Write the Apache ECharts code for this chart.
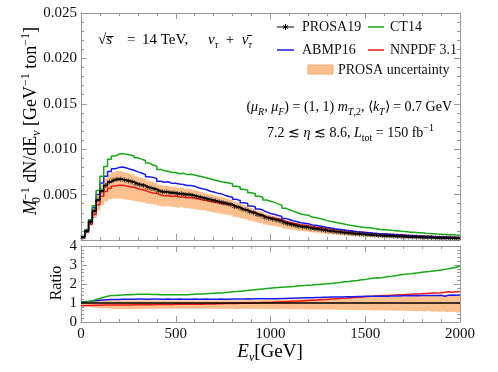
<!DOCTYPE html>
<html><head><meta charset="utf-8">
<script src="https://cdn.jsdelivr.net/npm/echarts@6/dist/echarts.min.js"></script>
<style>html,body{margin:0;padding:0;background:#fff}#c{width:498px;height:372px}</style>
</head><body><div id="c"></div>
<script>
// ---- data (20 GeV bins from 0 to 2000 GeV) ----
const binWidth = 20;
const prosa19 = [
 0.0003,0.0010,0.0020,0.0032,0.0044,0.0054,0.0060,0.0064,0.0066,0.0067,
 0.0067,0.0066,0.0065,0.0064,0.0062,0.0061,0.0060,0.0058,0.0057,0.0056,
 0.0054,0.0053,0.0053,0.0052,0.0052,0.0051,0.0051,0.0050,0.0050,0.0049,
 0.0048,0.0047,0.0046,0.0045,0.0044,0.0043,0.0042,0.0041,0.0040,0.0039,
 0.0037,0.0036,0.0034,0.0033,0.0031,0.0030,0.0028,0.0027,0.0025,0.0024,
 0.0023,0.0022,0.0021,0.0019,0.0018,0.0017,0.0016,0.0015,0.00145,0.0014,
 0.0013,0.00125,0.0012,0.00113,0.00106,0.0010,0.00095,0.0009,0.00085,0.0008,
 0.00076,0.00072,0.00068,0.00065,0.00062,0.00059,0.00056,0.00053,0.0005,0.00048,
 0.00046,0.00044,0.00042,0.0004,0.00038,0.00036,0.00034,0.00033,0.00031,0.0003,
 0.00028,0.00027,0.00026,0.00024,0.00023,0.00022,0.00021,0.0002,0.00019,0.00018];
// ratios to PROSA19
const ct14Ratio = [
 1.04,1.08,1.12,1.18,1.24,1.30,1.35,1.39,1.40,1.41,
 1.42,1.43,1.44,1.45,1.46,1.46,1.46,1.46,1.45,1.45,
 1.44,1.44,1.43,1.43,1.43,1.43,1.44,1.44,1.45,1.46,
 1.47,1.48,1.49,1.50,1.51,1.52,1.53,1.55,1.57,1.59,
 1.60,1.62,1.64,1.66,1.68,1.70,1.72,1.74,1.76,1.78,
 1.80,1.81,1.83,1.84,1.86,1.87,1.89,1.91,1.92,1.94,
 1.95,1.97,1.98,2.00,2.01,2.03,2.05,2.07,2.10,2.12,
 2.14,2.17,2.19,2.22,2.24,2.27,2.30,2.33,2.31,2.36,
 2.39,2.41,2.44,2.47,2.50,2.52,2.54,2.57,2.59,2.62,
 2.64,2.66,2.69,2.71,2.74,2.77,2.80,2.84,2.88,2.95];
const abmp16Ratio = [
 1.06,1.08,1.10,1.12,1.14,1.16,1.17,1.18,1.19,1.19,
 1.20,1.20,1.20,1.20,1.21,1.21,1.20,1.20,1.21,1.21,
 1.20,1.20,1.21,1.20,1.20,1.21,1.20,1.20,1.20,1.21,
 1.20,1.20,1.21,1.20,1.20,1.20,1.21,1.20,1.20,1.21,
 1.21,1.21,1.21,1.22,1.21,1.22,1.22,1.22,1.23,1.22,
 1.23,1.23,1.24,1.24,1.25,1.25,1.26,1.26,1.27,1.28,
 1.28,1.29,1.29,1.30,1.30,1.31,1.31,1.32,1.32,1.33,
 1.33,1.33,1.34,1.34,1.35,1.35,1.35,1.36,1.35,1.36,
 1.36,1.37,1.37,1.37,1.38,1.38,1.38,1.39,1.38,1.39,
 1.39,1.40,1.40,1.40,1.41,1.36,1.41,1.42,1.41,1.42];
const nnpdfRatio = [
 0.86,0.87,0.87,0.88,0.88,0.89,0.89,0.89,0.90,0.90,
 0.90,0.90,0.90,0.91,0.91,0.91,0.91,0.91,0.91,0.92,
 0.92,0.92,0.92,0.92,0.93,0.93,0.93,0.93,0.93,0.94,
 0.94,0.94,0.95,0.95,0.95,0.96,0.96,0.97,0.97,0.98,
 0.98,0.99,0.99,1.00,1.00,1.01,1.01,1.02,1.03,1.03,
 1.04,1.05,1.06,1.07,1.08,1.09,1.10,1.11,1.12,1.13,
 1.14,1.15,1.17,1.18,1.19,1.21,1.22,1.24,1.25,1.26,
 1.28,1.29,1.30,1.32,1.33,1.34,1.35,1.37,1.38,1.39,
 1.40,1.41,1.42,1.43,1.44,1.45,1.46,1.47,1.48,1.49,
 1.50,1.51,1.52,1.53,1.54,1.56,1.59,1.57,1.59,1.60];
const bandLowRatio = [
 0.86,0.82,0.79,0.76,0.74,0.72,0.71,0.70,0.69,0.68,
 0.68,0.68,0.68,0.68,0.69,0.69,0.69,0.69,0.70,0.70,
 0.70,0.70,0.70,0.71,0.70,0.70,0.71,0.70,0.70,0.70,
 0.70,0.70,0.71,0.70,0.70,0.70,0.70,0.69,0.70,0.70,
 0.69,0.69,0.70,0.69,0.69,0.69,0.68,0.69,0.68,0.68,
 0.68,0.68,0.68,0.67,0.68,0.67,0.67,0.67,0.66,0.67,
 0.66,0.66,0.66,0.65,0.66,0.65,0.65,0.64,0.65,0.64,
 0.64,0.63,0.64,0.63,0.62,0.63,0.62,0.61,0.62,0.61,
 0.60,0.61,0.60,0.59,0.60,0.58,0.59,0.58,0.57,0.58,
 0.56,0.57,0.55,0.56,0.54,0.55,0.53,0.54,0.52,0.50];
const bandHighRatio = [
 1.11,1.12,1.12,1.12,1.12,1.13,1.13,1.13,1.13,1.13,
 1.13,1.13,1.13,1.13,1.13,1.13,1.13,1.13,1.13,1.13,
 1.13,1.13,1.13,1.13,1.13,1.13,1.13,1.13,1.13,1.13,
 1.13,1.13,1.13,1.13,1.13,1.13,1.14,1.14,1.14,1.14,
 1.14,1.14,1.14,1.15,1.15,1.15,1.15,1.16,1.16,1.16,
 1.17,1.17,1.17,1.18,1.18,1.19,1.19,1.20,1.20,1.21,
 1.21,1.22,1.22,1.23,1.23,1.24,1.24,1.25,1.25,1.26,
 1.26,1.27,1.27,1.28,1.28,1.29,1.29,1.30,1.30,1.31,
 1.31,1.32,1.32,1.33,1.33,1.34,1.34,1.35,1.35,1.36,
 1.36,1.37,1.37,1.38,1.38,1.39,1.40,1.40,1.41,1.42];
const xTickValues = [0, 500, 1000, 1500, 2000];
const yTopRange = [0, 0.025];
const yRatioRange = [0, 4];

// ---- build ----
const C = {green:'#17a817', blue:'#1a1aee', red:'#ee1a1a', black:'#000', band:'#fdc08e'};
const FONT = 'Liberation Serif';
const times = (a, r) => a.map((v, i) => v * r[i]);
const ct14Top = times(prosa19, ct14Ratio);
const abmpTop = times(prosa19, abmp16Ratio);
const nnpdfTop = times(prosa19, nnpdfRatio);
const bandLowTop = times(prosa19, bandLowRatio);
const bandHighTop = times(prosa19, bandHighRatio);
const ones = prosa19.map(() => 1);

function stepData(vals) {
  const d = vals.map((v, i) => [i * binWidth, v]);
  d.push([vals.length * binWidth, vals[vals.length - 1]]);
  return d;
}
function histLine(name, vals, color, grid, z) {
  return {name, type:'line', step:'end', xAxisIndex: grid*2, yAxisIndex: grid*2,
    data: stepData(vals), symbol:'none', lineStyle:{color, width:1.5}, z: z,
    silent:true, animation:false};
}
function band(lo, hi, grid) {
  return {type:'custom', xAxisIndex: grid*2, yAxisIndex: grid*2, clip:true, silent:true, z:1,
    animation:false,
    data: lo.map((l, i) => [i*binWidth, (i+1)*binWidth, l, hi[i]]),
    encode:{x:[0,1], y:[2,3]},
    renderItem: (params, api) => {
      const p0 = api.coord([api.value(0), api.value(3)]);
      const p1 = api.coord([api.value(1), api.value(2)]);
      return {type:'rect', shape:{x:p0[0], y:p0[1], width:p1[0]-p0[0]+0.6, height:p1[1]-p0[1]},
        style:{fill:C.band}};
    }};
}
const axisCol = '#9a9a9a';
function xAx(grid, pos, labels) {
  return {gridIndex:grid, type:'value', position:pos, min:xTickValues[0], max:xTickValues[xTickValues.length-1],
    interval:xTickValues[1]-xTickValues[0],
    axisLine:{show:true, onZero:false, lineStyle:{color:axisCol, width:1}},
    axisTick:{show:true, inside:true, length:6, lineStyle:{color:axisCol}},
    minorTick:{show:true, splitNumber:5, length:3, lineStyle:{color:axisCol}},
    axisLabel:{show:labels, color:'#111', fontFamily:FONT, fontSize:15, margin:5, formatter: v => String(v)},
    splitLine:{show:false}};
}
function yAx(grid, pos, range, interval, labels, fmt) {
  return {gridIndex:grid, type:'value', position:pos, min:range[0], max:range[1], interval,
    axisLine:{show:true, onZero:false, lineStyle:{color:axisCol, width:1}},
    axisTick:{show:true, inside:true, length:6, lineStyle:{color:axisCol}},
    minorTick:{show:true, splitNumber:5, length:3, lineStyle:{color:axisCol}},
    axisLabel:{show:labels, color:'#111', fontFamily:FONT, fontSize:15, margin:4, formatter:fmt, showMinLabel:true},
    splitLine:{show:false}};
}
const asterisk = 'path://M5,0 L5,10 M0.67,2.5 L9.33,7.5 M0.67,7.5 L9.33,2.5';

const chart = echarts.init(document.getElementById('c'), null, {renderer:'canvas'});
const rich = {
  r:{fontFamily:FONT, fontSize:14, color:'#111', lineHeight:20, verticalAlign:'middle'},
  i:{fontFamily:FONT, fontStyle:'italic', fontSize:14, color:'#111', lineHeight:20},
  sub:{fontFamily:FONT, fontSize:10, color:'#111', lineHeight:10, verticalAlign:'bottom'},
  subi:{fontFamily:FONT, fontStyle:'italic', fontSize:10, color:'#111', lineHeight:10, verticalAlign:'bottom'},
  sup:{fontFamily:FONT, fontSize:10, color:'#111', lineHeight:10, verticalAlign:'top'}
};
const rich15 = {
  r:{fontFamily:FONT, fontSize:15, color:'#111', lineHeight:20},
  i:{fontFamily:FONT, fontStyle:'italic', fontSize:15, color:'#111', lineHeight:20},
  subi:{fontFamily:FONT, fontStyle:'italic', fontSize:10, color:'#111', lineHeight:10, verticalAlign:'bottom'}
};
const rich18 = {
  r:{fontFamily:FONT, fontSize:18, color:'#111', lineHeight:23},
  i:{fontFamily:FONT, fontStyle:'italic', fontSize:18, color:'#111', lineHeight:23},
  sub0:{fontFamily:FONT, fontSize:12, color:'#111', lineHeight:12, verticalAlign:'bottom', width:0.1},
  sub:{fontFamily:FONT, fontStyle:'italic', fontSize:12, color:'#111', lineHeight:12, verticalAlign:'bottom'},
  sup:{fontFamily:FONT, fontSize:12, color:'#111', lineHeight:12, verticalAlign:'top'}
};
function legLine(x1, x2, y, color, w) {
  return {type:'line', shape:{x1, y1:y, x2, y2:y}, style:{stroke:color, lineWidth:w || 1.5}, z:100};
}
function segLine(x1, y1, x2, y2) {
  return {type:'line', shape:{x1, y1, x2, y2}, style:{stroke:'#000', lineWidth:1}, z:101};
}
function legText(x, y, text) {
  return {type:'text', x, y, style:{text, fontFamily:FONT, fontSize:14, fill:'#111', verticalAlign:'middle', align:'left'}, z:100};
}
function rt(x, y, text, r, align) {
  return {type:'text', x, y, z:100, style:{text, rich:r, align:align || 'left', verticalAlign:'middle'}};
}
const option = {
  backgroundColor:'#fff',
  animation:false,
  grid:[
    {left:81, right:38, top:13, height:227},
    {left:81, right:38, top:246, height:76}
  ],
  xAxis:[xAx(0,'bottom',false), xAx(0,'top',false), xAx(1,'bottom',true), xAx(1,'top',false)],
  yAxis:[
    yAx(0,'left',yTopRange,0.005,true, v => v === 0 ? '' : v.toFixed(3)),
    yAx(0,'right',yTopRange,0.005,false),
    yAx(1,'left',yRatioRange,1,true, v => String(v)),
    yAx(1,'right',yRatioRange,1,false)
  ],
  series:[
    band(bandLowTop, bandHighTop, 0),
    histLine('NNPDF 3.1', nnpdfTop, C.red, 0, 3),
    histLine('ABMP16', abmpTop, C.blue, 0, 3),
    histLine('CT14', ct14Top, C.green, 0, 3),
    histLine('PROSA19', prosa19, C.black, 0, 4),
    {name:'PROSA19 points', type:'scatter', xAxisIndex:0, yAxisIndex:0, z:5, silent:true,
     data: prosa19.map((v, i) => [i*binWidth + binWidth/2, v]),
     symbol: asterisk, symbolSize:5,
     itemStyle:{color:'none', borderColor:'#000', borderWidth:0.9}},
    band(bandLowRatio, bandHighRatio, 1),
    histLine('NNPDF 3.1 ratio', nnpdfRatio, C.red, 1, 3),
    histLine('ABMP16 ratio', abmp16Ratio, C.blue, 1, 3),
    histLine('CT14 ratio', ct14Ratio, C.green, 1, 3),
    histLine('PROSA19 ratio', ones, C.black, 1, 4)
  ],
  graphic:[
    {type:'text', x:31, y:121, rotation:Math.PI/2, z:100,
     style:{text:'{i|M}{sub0|0}{sup|−1}{r| dN/dE}{sub|ν}{r| [GeV}{sup|−1}{r| ton}{sup|−1}{r|]}',
       rich:rich18, align:'center', verticalAlign:'middle'}},
    {type:'text', x:57, y:283, rotation:Math.PI/2, z:100,
     style:{text:'Ratio', fontFamily:FONT, fontSize:16, fill:'#111', align:'center', verticalAlign:'middle'}},
    {type:'text', x:270, y:352, z:100,
     style:{text:'{i|E}{sub|ν}{r|[GeV]}', rich:{
       r:{fontFamily:FONT, fontSize:19, color:'#111', lineHeight:24},
       i:{fontFamily:FONT, fontStyle:'italic', fontSize:19, color:'#111', lineHeight:24},
       sub:{fontFamily:FONT, fontStyle:'italic', fontSize:12, color:'#111', lineHeight:12, verticalAlign:'bottom'}},
       align:'center', verticalAlign:'middle'}},
    rt(98, 40, '{r|√}{i|s̅}', rich15),
    rt(127, 40, '{r|=}', rich15),
    rt(142, 40, '{r|14 TeV,}', rich15),
    rt(208, 40, '{i|ν}{subi|τ}{r|  +  }{i|ν̄}{subi|τ}', rich15),
    rt(452, 107, '{r|(}{i|μ}{subi|R}{r|, }{i|μ}{subi|F}{r|) = (1, 1) }{i|m}{subi|T}{sub|,2}{r|, ⟨}{i|k}{subi|T}{r|⟩ = 0.7 GeV}', rich, 'right'),
    rt(434, 133, '{r|7.2 ≲ }{i|η}{r| ≲ 8.6, }{i|L}{sub|tot}{r| = 150 fb}{sup|−1}', rich, 'right'),
    legLine(277, 294, 27, C.black, 1),
    segLine(285.5, 24, 285.5, 30),
    segLine(283, 25.5, 288, 28.5),
    segLine(283, 28.5, 288, 25.5),
    legText(302, 27, 'PROSA19'),
    legLine(368, 384, 27, C.green),
    legText(390, 27, 'CT14'),
    legLine(277, 294, 50, C.blue),
    legText(302, 50, 'ABMP16'),
    legLine(368, 384, 50, C.red),
    legText(390, 50, 'NNPDF 3.1'),
    {type:'rect', shape:{x:308, y:65, width:25, height:9}, style:{fill:C.band, stroke:'#f0a868', lineWidth:1}, z:100},
    legText(338, 70, 'PROSA uncertainty')
  ]
};
chart.setOption(option);
</script>
</body></html>
